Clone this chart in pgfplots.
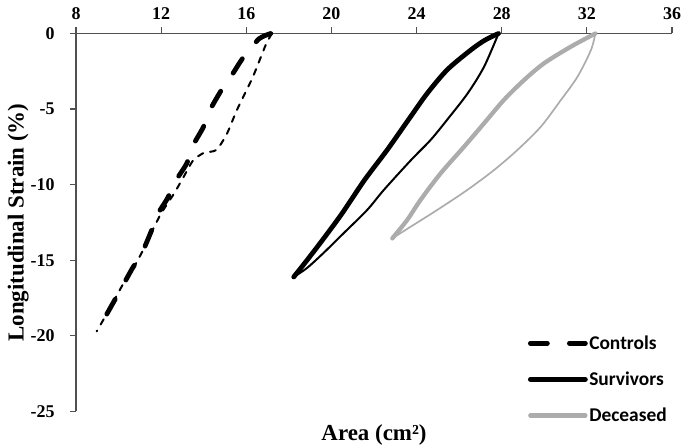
\documentclass[border=0pt]{standalone}
\usepackage{fontspec}
\setmainfont{Liberation Serif}
\newfontfamily\legendfont{Carlito}
\usepackage{pgfplots}
\pgfplotsset{compat=1.18}
\definecolor{decgray}{RGB}{172,172,172}
\definecolor{axgray}{RGB}{80,80,80}
\begin{document}
\begin{tikzpicture}
\useasboundingbox (-76bp,-35bp) rectangle (612bp,411.5bp);
\begin{axis}[
  scale only axis, width=596bp, height=378bp,
  xmin=8, xmax=36, ymin=-25, ymax=0,
  xtick={8,12,...,36}, ytick={-25,-20,...,0},
  xticklabels={8,12,16,20,24,28,32,36},
  yticklabels={-25,-20,-15,-10,-5,0},
  axis x line=top, axis y line=left,
  axis line style={-, line width=1.2bp, axgray},
  tick style={line width=1.2bp, axgray},
  tick align=outside, major tick length=6bp,
  ticklabel style={font=\rmfamily\bfseries\fontsize{18}{20}\selectfont},
  xticklabel shift=4bp, yticklabel shift=12bp,
  xlabel={Area (cm²)},
  xlabel style={at={(axis description cs:0.5,-0.025)}, anchor=north,
    font=\rmfamily\bfseries\fontsize{23}{26}\selectfont},
  ylabel={Longitudinal Strain (\%)},
  ylabel style={at={(axis description cs:-0.097,0.5)}, anchor=center,
    font=\rmfamily\bfseries\fontsize{23}{26}\selectfont},
  clip=false,
  legend style={draw=none, fill=none, at={(0.758,0.205)}, anchor=north west,
    inner sep=0pt, row sep=18bp,
    font=\legendfont\bfseries\fontsize{19.5}{22}\selectfont,
    nodes={inner sep=1.5bp}},
  legend cell align=left,
  legend image code/.code={\draw[#1] (0bp,0bp) -- (55bp,0bp);},
  every axis plot/.append style={line join=round, line cap=round},
]
% Controls
\addplot[black, line width=4.8bp, dash pattern=on 17bp off 22bp, smooth, tension=0.4] coordinates {
 (17.15,0) (16.6,-0.35) (15.85,-1.6) (15.3,-2.8) (14.85,-3.7) (14.3,-5.05)
 (13.98,-6.2) (13.5,-7.4) (13.2,-8.6) (12.66,-9.8) (12.3,-10.9) (11.86,-11.9)
 (11.5,-13.2) (11.1,-14.5) (10.62,-15.6) (10.15,-16.8) (9.75,-17.8) (9.27,-19.0) (8.97,-19.7)};
\addlegendentry{Controls}
\addplot[black, line width=2bp, dash pattern=on 6bp off 7bp, smooth, tension=0.4, forget plot] coordinates {
 (17.2,0) (16.9,-0.8) (16.3,-2.9) (15.56,-5.06) (15.1,-6.6) (14.6,-7.7) (14.0,-7.9)
 (13.5,-8.4) (13.05,-9.5) (12.6,-10.6) (12.0,-11.9) (11.6,-13.0) (11.2,-14.2)
 (10.7,-15.5) (10.2,-16.6) (9.7,-17.9) (9.3,-18.9) (8.97,-19.7)};
% Survivors
\addplot[black, line width=4.8bp, smooth, tension=0.5] coordinates {
 (27.85,0) (27.2,-0.45) (26.54,-1.1) (25.44,-2.4) (24.5,-3.96) (23.72,-5.5)
 (22.62,-7.7) (21.55,-9.7) (20.5,-11.9) (19.58,-13.66) (18.85,-15.0) (18.23,-16.1)};
\addlegendentry{Survivors}
\addplot[black, line width=2bp, smooth, tension=0.5, forget plot] coordinates {
 (27.85,0) (27.17,-2.2) (26.4,-3.96) (25.44,-5.7) (24.66,-7.04) (23.72,-8.4)
 (22.46,-10.35) (21.68,-11.67) (20.58,-13.2) (19.64,-14.5) (18.86,-15.5) (18.23,-16.1)};
% Deceased
\addplot[decgray, line width=4.3bp, smooth, tension=0.5] coordinates {
 (32.4,0) (31.25,-0.87) (29.99,-1.97) (29.05,-3.08) (28.1,-4.4) (27.17,-5.94)
 (26.23,-7.49) (25.13,-9.25) (24.19,-11.0) (23.56,-12.33) (22.86,-13.55)};
\addlegendentry{Deceased}
\addplot[decgray, line width=1.7bp, smooth, tension=0.5, forget plot] coordinates {
 (32.4,0) (32.19,-1.1) (31.56,-2.86) (30.78,-4.4) (29.84,-6.16) (28.74,-7.7)
 (27.64,-9.03) (26.38,-10.35) (24.97,-11.67) (23.72,-12.78) (22.86,-13.55)};
\end{axis}
\end{tikzpicture}
\end{document}
